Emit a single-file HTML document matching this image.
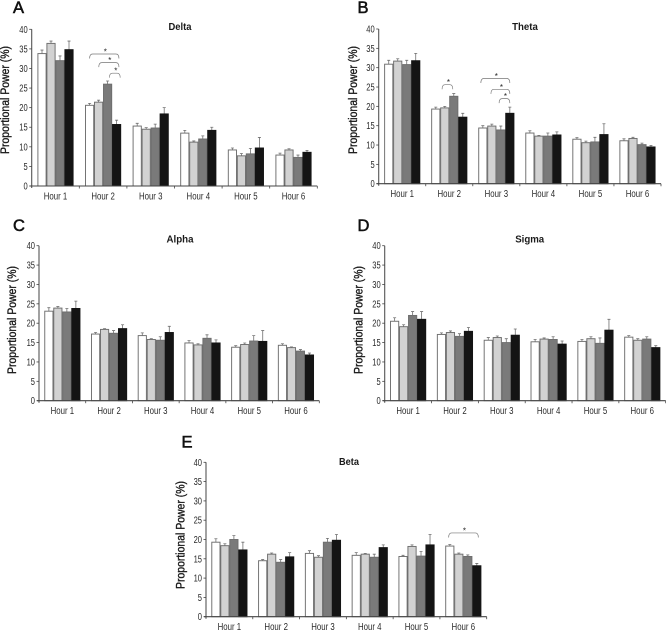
<!DOCTYPE html>
<html lang="en">
<head>
<meta charset="utf-8">
<title>Proportional Power by Hour</title>
<style>
html,body{margin:0;padding:0;background:#fff;width:666px;height:630px;overflow:hidden}
svg{display:block;filter:blur(0.3px)}
text{font-family:"Liberation Sans",sans-serif}
</style>
</head>
<body>
<svg id="figure" xmlns="http://www.w3.org/2000/svg" width="666" height="630" viewBox="0 0 666 630"></svg>
<script>
const hourLabels = ["Hour 1","Hour 2","Hour 3","Hour 4","Hour 5","Hour 6"];
const yTickLabels = [0,5,10,15,20,25,30,35,40];
const seriesFills = ["#ffffff","#d2d2d2","#7a7a7a","#141414"];

const deltaValues = [[33.8,36.4,32,34.8],[20.6,21.4,26,15.7],[15.3,14.5,14.8,18.4],[13.5,11.2,12,14.2],[9.2,7.7,8.2,9.7],[7.9,9.2,7.3,8.6]];
const deltaUpper = [[34.7,37,33.2,37],[21.1,21.9,26.8,16.8],[16,14.9,15.8,20],[14.2,11.5,12.8,15],[9.7,8.3,9.6,12.4],[8.4,9.5,7.9,9.1]];
const thetaValues = [[30.9,31.7,30.8,31.8],[19.3,19.6,22.6,17.2],[14.4,14.9,13.9,18.2],[13.1,12.3,12.3,12.6],[11.5,10.6,10.8,12.7],[11.1,11.7,10.1,9.5]];
const thetaUpper = [[31.9,32.3,31.9,33.7],[19.8,20,23.3,18.2],[15,15.4,14.9,19.8],[13.7,12.5,13.1,13.4],[11.9,11,12,15.5],[11.6,12,10.5,9.9]];
const alphaValues = [[23.1,23.9,22.9,23.8],[17.2,18.4,17.4,18.6],[16.8,15.8,15.6,17.6],[14.9,14.4,16.1,14.9],[13.8,14.5,15.4,15.3],[14.3,13.7,12.8,11.8]];
const alphaUpper = [[24,24.3,23.8,25.7],[17.6,18.6,18.1,19.6],[17.5,16,16.5,19.2],[15.5,14.7,17,15.7],[14.2,14.9,16.8,18.1],[14.7,13.9,13.2,12.3]];
const sigmaValues = [[20.5,19.1,22,21],[17.1,17.6,16.6,17.9],[15.6,16.3,15,16.9],[15.2,15.9,15.8,14.6],[15.3,16,14.8,18.2],[16.4,15.6,15.9,13.7]];
const sigmaUpper = [[21.4,19.6,23,23],[17.5,18,17.3,18.9],[16.3,16.7,16,18.5],[15.8,16.2,16.5,15.4],[15.8,16.5,16.2,21],[16.8,16,16.5,14.2]];
const betaValues = [[19.3,18.4,20,17.3],[14.5,16.2,14.1,15.5],[16.4,15.4,19.3,19.8],[15.9,16.2,15.4,17.9],[15.6,18.2,15.7,18.6],[18.3,16.2,15.6,13.2]];
const betaUpper = [[20.2,18.9,21,19.3],[14.8,16.5,14.8,16.6],[17.1,15.8,20.3,21.3],[16.6,16.4,16.2,18.6],[15.9,18.6,16.9,21.3],[18.7,16.5,16,13.8]];

/* significance brackets: hour index, span in bar units from group centre, level in % */
const deltaBracketHours = [1,1,1];
const deltaBracketFrom = [-1.5,-0.48,0.7];
const deltaBracketTo = [1.76,1.76,1.9];
const deltaBracketLevels = [33.7,31.5,28.8];
const thetaBracketHours = [1,2,2,2];
const thetaBracketFrom = [-0.8,-1.72,-0.6,0.31];
const thetaBracketTo = [0.39,1.5,1.5,1.5];
const thetaBracketLevels = [25.6,27.2,24.4,22];
const betaBracketHours = [5];
const betaBracketFrom = [-1.63];
const betaBracketTo = [1.67];
const betaBracketLevels = [21.7];

const panels = [
  {key:"delta",letter:"A",title:"Delta",tlen:23,left:31.7,right:317.3,y0:186,y40:29.3,tcx:180,tcy:30,lx:13,ly:13,ytx:9,yty:100,values:deltaValues,upper:deltaUpper,bh:deltaBracketHours,bf:deltaBracketFrom,bt:deltaBracketTo,bl:deltaBracketLevels},
  {key:"theta",letter:"B",title:"Theta",tlen:25.7,left:378.7,right:661,y0:183.7,y40:29,tcx:525,tcy:30,lx:357.5,ly:13,ytx:357,yty:100,values:thetaValues,upper:thetaUpper,bh:thetaBracketHours,bf:thetaBracketFrom,bt:thetaBracketTo,bl:thetaBracketLevels},
  {key:"alpha",letter:"C",title:"Alpha",tlen:27,left:39,right:319.3,y0:400.7,y40:245.7,tcx:180,tcy:242.3,lx:13,ly:231,ytx:16,yty:320,values:alphaValues,upper:alphaUpper,bh:[],bf:[],bt:[],bl:[]},
  {key:"sigma",letter:"D",title:"Sigma",tlen:29,left:384.7,right:665.7,y0:400.7,y40:245.7,tcx:529.7,tcy:242.3,lx:357.5,ly:231,ytx:362.5,yty:320,values:sigmaValues,upper:sigmaUpper,bh:[],bf:[],bt:[],bl:[]},
  {key:"beta",letter:"E",title:"Beta",tlen:20,left:206,right:486.7,y0:616.7,y40:462.3,tcx:349,tcy:465,lx:181.5,ly:447.5,ytx:184.5,yty:535,values:betaValues,upper:betaUpper,bh:betaBracketHours,bf:betaBracketFrom,bt:betaBracketTo,bl:betaBracketLevels}
];

const NS = "http://www.w3.org/2000/svg";
const root = document.getElementById("figure");
function make(parent, tag, attrs, txt){
  const n = document.createElementNS(NS, tag);
  for (const k in attrs) n.setAttribute(k, attrs[k]);
  if (txt !== undefined) n.textContent = txt;
  parent.appendChild(n);
  return n;
}
const BAR_PITCH = 9;
const AXIS_MAX = 40;

panels.forEach(function(p){
  const yScale = function(v){ return p.y0 - (v / AXIS_MAX) * (p.y0 - p.y40); };
  const groupW = (p.right - p.left) / hourLabels.length;
  const groupX = function(i){ return p.left + (i + 0.5) * groupW; };

  const g = make(root, "g", {});
  
  

  const letter = make(g, "text", {x:p.lx, y:p.ly, "font-size":16.5, fill:"#111", stroke:"#111", "stroke-width":0.55}, p.letter);
  
  

  const title = make(g, "text", {x:p.tcx, y:p.tcy, "text-anchor":"middle", "font-size":10.2, "font-weight":"bold", fill:"#1a1a1a", textLength:p.tlen, lengthAdjust:"spacingAndGlyphs"}, p.title);
  
  

  const yTitle = make(g, "text", {x:0, y:0, transform:"translate(" + p.ytx + "," + p.yty + ") rotate(-90)", "text-anchor":"middle", "font-size":11.5, fill:"#1a1a1a", stroke:"#1a1a1a", "stroke-width":0.35, textLength:108, lengthAdjust:"spacingAndGlyphs"}, "Proportional Power (%)");
  
  

  /* bars and error bars */
  p.values.forEach(function(row, i){
    const hourGroup = make(g, "g", {});
    
    
    row.forEach(function(v, j){
      const x = groupX(i) + (j - 2) * BAR_PITCH;
      const cx = x + BAR_PITCH / 2;
      const err = make(hourGroup, "path", {d:"M" + cx + " " + yScale(v) + "V" + yScale(p.upper[i][j]) + "M" + (cx - 1.5) + " " + yScale(p.upper[i][j]) + "H" + (cx + 1.5), stroke:"#707070", "stroke-width":0.8, fill:"none"});
      
      
      const bar = make(hourGroup, "rect", {x:x + 0.4, y:yScale(v), width:BAR_PITCH - 0.8, height:p.y0 - yScale(v), fill:seriesFills[j], stroke:j === 3 ? "#141414" : "#6e6e6e", "stroke-width":0.95});
      
      
    });
  });

  /* axes */
  const yAxis = make(g, "line", {x1:p.left, x2:p.left, y1:p.y40, y2:p.y0 + 2, stroke:"#555", "stroke-width":1.1});
  
  
  const xAxis = make(g, "line", {x1:p.left - 2, x2:p.right, y1:p.y0, y2:p.y0, stroke:"#444", "stroke-width":1.1});
  
  

  yTickLabels.forEach(function(t){
    const tick = make(g, "line", {x1:p.left - 2.5, x2:p.left, y1:yScale(t), y2:yScale(t), stroke:"#444", "stroke-width":0.8});
    
    
    const lab = make(g, "text", {x:p.left - 4, y:yScale(t) + 3.5, "text-anchor":"end", "font-size":9.8, fill:"#2a2a2a", textLength:String(t).length * 4.2, lengthAdjust:"spacingAndGlyphs"}, String(t));
    
    
  });

  hourLabels.forEach(function(h, i){
    const tick = make(g, "line", {x1:p.left + (i + 1) * groupW, x2:p.left + (i + 1) * groupW, y1:p.y0, y2:p.y0 + 2.5, stroke:"#444", "stroke-width":0.8});
    
    
    const lab = make(g, "text", {x:groupX(i), y:p.y0 + 13.5, "text-anchor":"middle", "font-size":9.8, fill:"#2a2a2a", textLength:23.5, lengthAdjust:"spacingAndGlyphs"}, h);
    
    
  });

  /* significance brackets */
  p.bl.forEach(function(level, b){
    const x1 = groupX(p.bh[b]) + p.bf[b] * BAR_PITCH;
    const x2 = groupX(p.bh[b]) + p.bt[b] * BAR_PITCH;
    const y = yScale(level);
    const br = make(g, "path", {d:"M" + x1 + " " + (y + 4.5) + "Q" + x1 + " " + y + " " + (x1 + 3) + " " + y + "H" + (x2 - 3) + "Q" + x2 + " " + y + " " + x2 + " " + (y + 4.5), fill:"none", stroke:"#777", "stroke-width":0.7});
    
    
    const star = make(g, "text", {x:(x1 + x2) / 2 + 1, y:y + 0.5, "text-anchor":"middle", "font-size":8, fill:"#222"}, "*");
    
    
  });
});
</script>
</body>
</html>
